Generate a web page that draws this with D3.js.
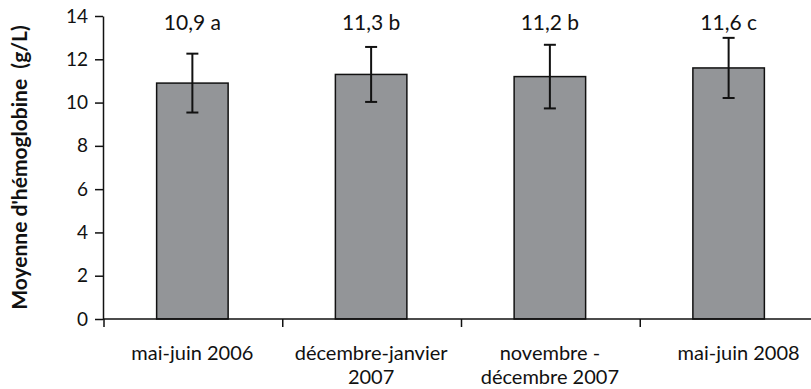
<!DOCTYPE html>
<html>
<head>
<meta charset="utf-8">
<script src="https://cdn.jsdelivr.net/npm/d3@7"></script>
<style>
  html, body { margin: 0; padding: 0; background: #fff; }
  svg { display: block; font-family: "Lato", "Open Sans", sans-serif; }
</style>
</head>
<body>
<div id="chart"></div>
<script>
// periods (x categories), two-line labels
const periods = ["mai-juin 2006", "décembre-janvier 2007", "novembre - décembre 2007", "mai-juin 2008"];
const periodLabels = [["mai-juin 2006"], ["décembre-janvier", "2007"], ["novembre -", "décembre 2007"], ["mai-juin 2008"]];
// mean hemoglobin (g/L) and error (±)
const means = [10.9, 11.3, 11.2, 11.6];
const errors = [1.36, 1.27, 1.47, 1.39];
const annotations = ["10,9 a", "11,3 b", "11,2 b", "11,6 c"];
const yTicks = [0, 2, 4, 6, 8, 10, 12, 14];

const width = 811, height = 389;
const margins = { top: 16, right: -7, bottom: 70, left: 103 };

const svg = d3.select("#chart").append("svg")
    .attr("width", width)
    .attr("height", height);

const x = d3.scaleBand()
    .domain(periods)
    .range([margins.left, width - margins.right])
    .paddingInner(0.6)
    .paddingOuter(0.3);

const y = d3.scaleLinear()
    .domain([0, 14])
    .range([height - margins.bottom, margins.top]);

// bars
svg.append("g")
    .selectAll("rect")
    .data(periods)
    .join("rect")
    .attr("x", d => x(d))
    .attr("y", (d, i) => y(means[i]))
    .attr("width", x.bandwidth())
    .attr("height", (d, i) => y(0) - y(means[i]))
    .attr("fill", "#939598")
    .attr("stroke", "#111")
    .attr("stroke-width", 1.5);

// error bars
const err = svg.append("g")
    .attr("stroke", "#111")
    .attr("stroke-width", 2)
    .selectAll("g")
    .data(periods)
    .join("g")
    .attr("transform", d => `translate(${x(d) + x.bandwidth() / 2},0)`);
err.append("line")
    .attr("y1", (d, i) => y(means[i] + errors[i]))
    .attr("y2", (d, i) => y(means[i] - errors[i]));
err.append("line")
    .attr("x1", -6).attr("x2", 6)
    .attr("y1", (d, i) => y(means[i] + errors[i]))
    .attr("y2", (d, i) => y(means[i] + errors[i]));
err.append("line")
    .attr("x1", -6).attr("x2", 6)
    .attr("y1", (d, i) => y(means[i] - errors[i]))
    .attr("y2", (d, i) => y(means[i] - errors[i]));

// value labels
svg.append("g")
    .selectAll("text")
    .data(periods)
    .join("text")
    .attr("x", d => x(d) + x.bandwidth() / 2)
    .attr("y", 30)
    .attr("text-anchor", "middle")
    .attr("font-size", 21)
    .attr("fill", "#111")
    .text((d, i) => annotations[i]);

// y axis
svg.append("g")
    .attr("transform", `translate(${margins.left},0)`)
    .call(d3.axisLeft(y).tickValues(yTicks).tickSize(8).tickSizeOuter(0).tickPadding(7))
    .call(g => g.selectAll("line, path").attr("stroke", "#111").attr("stroke-width", 1.5))
    .call(g => g.selectAll("text").attr("font-size", 19).attr("fill", "#111").attr("font-family", "Lato, sans-serif"));

// x axis, ticks at category boundaries
const step = x.step();
const boundaries = d3.range(0, periods.length).map(i => margins.left + 1 + i * step);
const xAxis = svg.append("g")
    .attr("stroke", "#111")
    .attr("stroke-width", 1.5);
xAxis.append("line")
    .attr("x1", margins.left).attr("x2", width)
    .attr("y1", y(0)).attr("y2", y(0));
xAxis.selectAll("line.tick")
    .data(boundaries)
    .join("line")
    .attr("class", "tick")
    .attr("x1", d => d).attr("x2", d => d)
    .attr("y1", y(0)).attr("y2", y(0) + 8);

// category labels, one text per line
const labelLines = periods.flatMap((p, i) =>
    periodLabels[i].map((t, j) => ({ p, i, j, t })));
svg.append("g")
    .selectAll("text")
    .data(labelLines)
    .join("text")
    .attr("x", d => x(d.p) + x.bandwidth() / 2 + (d.i === periods.length - 1 ? 10 : 0))
    .attr("y", d => 360 + d.j * 24)
    .attr("text-anchor", "middle")
    .attr("font-size", 20)
    .attr("fill", "#111")
    .text(d => d.t);

// y axis title
svg.append("text")
    .attr("transform", `translate(27, ${(margins.top + y(0)) / 2}) rotate(-90)`)
    .attr("text-anchor", "middle")
    .attr("font-size", 21)
    .attr("font-weight", "bold")
    .attr("fill", "#111")
    .attr("xml:space", "preserve")
    .style("white-space", "pre")
    .text("Moyenne d'hémoglobine  (g/L)");
</script>
</body>
</html>
